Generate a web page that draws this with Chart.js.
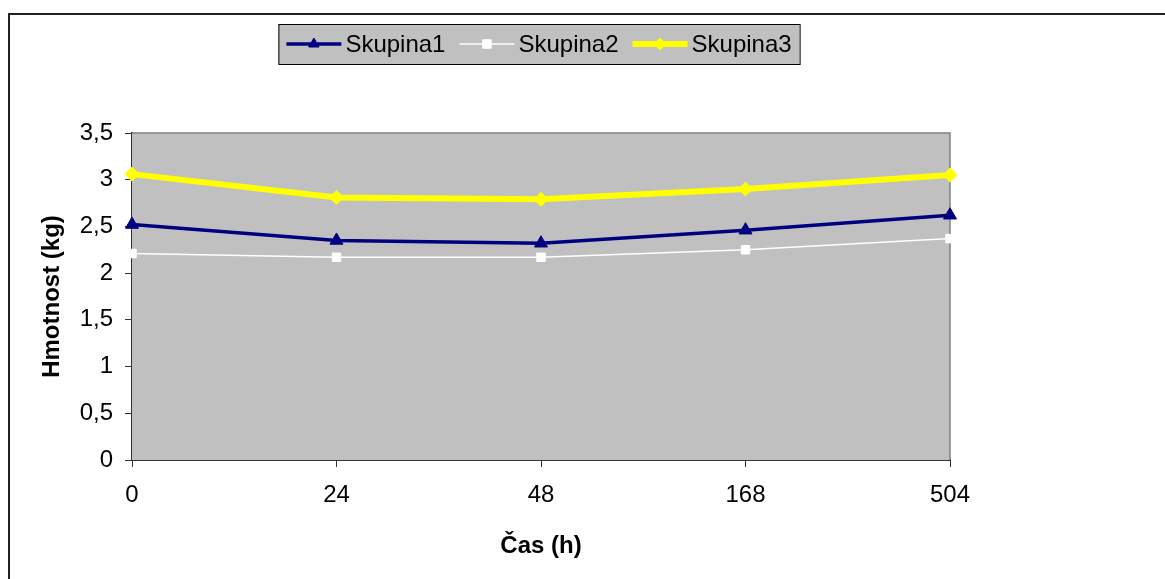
<!DOCTYPE html>
<html>
<head>
<meta charset="utf-8">
<script src="https://cdn.jsdelivr.net/npm/chart.js@4"></script>
<style>
  html, body { margin: 0; padding: 0; background: #fff; }
  #wrap { width: 1165px; height: 579px; position: relative; }
</style>
</head>
<body>
<div id="wrap"><canvas id="weightChart"></canvas></div>
<script>
// data
const hours = ["0", "24", "48", "168", "504"];
const skupina1 = [2.52, 2.35, 2.32, 2.46, 2.62];
const skupina2 = [2.21, 2.17, 2.17, 2.25, 2.37];
const skupina3 = [3.06, 2.81, 2.79, 2.90, 3.05];
const seriesNames = ["Skupina1", "Skupina2", "Skupina3"];

const FONT = "Arial, 'Liberation Sans', sans-serif";

// gray plot area + outer frame
const plotBg = {
  id: "plotBg",
  beforeDatasetsDraw(chart) {
    const { ctx, chartArea: a } = chart;
    ctx.save();
    ctx.fillStyle = "#C0C0C0";
    ctx.fillRect(a.left, a.top, a.right - a.left, a.bottom - a.top);
    ctx.strokeStyle = "#808080";
    ctx.lineWidth = 1.5;
    ctx.beginPath();
    ctx.moveTo(a.left, a.top);
    ctx.lineTo(a.right, a.top);
    ctx.lineTo(a.right, a.bottom);
    ctx.stroke();
    ctx.restore();
  },
  afterDraw(chart) {
    const ctx = chart.ctx;
    ctx.save();
    ctx.strokeStyle = "#222";
    ctx.lineWidth = 2;
    ctx.beginPath();
    ctx.moveTo(9, chart.height);
    ctx.lineTo(9, 14);
    ctx.lineTo(chart.width, 14);
    ctx.stroke();
    ctx.restore();
  }
};

// legend drawn like the original: line with marker in the middle
const lineLegend = {
  id: "lineLegend",
  afterDraw(chart) {
    const ctx = chart.ctx;
    const sets = chart.data.datasets;
    ctx.save();
    ctx.font = "24px " + FONT;
    const lineLen = 55, gapText = 4, gapItem = 14, pad = 8;
    let total = 0;
    sets.forEach((ds, i) => {
      total += lineLen + gapText + ctx.measureText(ds.label).width;
      if (i < sets.length - 1) total += gapItem;
    });
    const cx = 539, cy = 44;
    const boxL = cx - total / 2 - pad, boxW = total + pad * 2;
    ctx.fillStyle = "#C0C0C0";
    ctx.fillRect(boxL, 24, boxW, 40);
    ctx.strokeStyle = "#000";
    ctx.lineWidth = 1;
    ctx.strokeRect(boxL + 0.5, 24.5, boxW, 40);

    let x = boxL + pad;
    sets.forEach((ds) => {
      ctx.strokeStyle = ds.borderColor;
      ctx.lineWidth = ds.borderWidth;
      ctx.beginPath();
      ctx.moveTo(x, cy);
      ctx.lineTo(x + lineLen, cy);
      ctx.stroke();
      ctx.fillStyle = ds.pointBackgroundColor;
      ctx.strokeStyle = ds.pointBorderColor;
      ctx.lineWidth = 1;
      Chart.helpers.drawPoint(ctx, {
        pointStyle: ds.pointStyle,
        radius: 6,
        rotation: 0,
        borderWidth: 1
      }, x + lineLen / 2, cy);
      ctx.fillStyle = "#000";
      ctx.textBaseline = "middle";
      ctx.textAlign = "left";
      ctx.fillText(ds.label, x + lineLen + gapText, cy + 1);
      x += lineLen + gapText + ctx.measureText(ds.label).width + gapItem;
    });
    ctx.restore();
  }
};

const ctx = document.getElementById("weightChart").getContext("2d");

new Chart(ctx, {
  type: "line",
  data: {
    labels: hours,
    datasets: [
      {
        label: seriesNames[0],
        data: skupina1,
        borderColor: "#000080",
        borderWidth: 3.5,
        pointStyle: "triangle",
        pointRadius: 7.5,
        pointBackgroundColor: "#000080",
        pointBorderColor: "#000080",
        pointBorderWidth: 1,
        tension: 0,
        clip: false
      },
      {
        label: seriesNames[1],
        data: skupina2,
        borderColor: "#FFFFFF",
        borderWidth: 1.5,
        pointStyle: "rect",
        pointRadius: 6,
        pointBackgroundColor: "#FFFFFF",
        pointBorderColor: "#FFFFFF",
        pointBorderWidth: 1,
        tension: 0,
        clip: false
      },
      {
        label: seriesNames[2],
        data: skupina3,
        borderColor: "#FFFF00",
        borderWidth: 6,
        pointStyle: "rectRot",
        pointRadius: 7,
        pointBackgroundColor: "#FFFF00",
        pointBorderColor: "#FFFF00",
        pointBorderWidth: 1,
        tension: 0,
        clip: false
      }
    ]
  },
  options: {
    responsive: true,
    maintainAspectRatio: false,
    animation: false,
    layout: { padding: { left: 0, top: 133, right: 215, bottom: 0 } },
    plugins: {
      legend: { display: false },
      tooltip: { enabled: false }
    },
    scales: {
      x: {
        offset: false,
        grid: {
          drawOnChartArea: false,
          drawTicks: true,
          tickLength: 7,
          color: "#333"
        },
        border: { color: "#333", width: 2 },
        ticks: {
          color: "#000",
          font: { family: FONT, size: 24 },
          padding: 14,
          maxRotation: 0
        },
        title: {
          display: true,
          text: "Čas (h)",
          color: "#000",
          font: { family: FONT, size: 24, weight: "bold" },
          padding: { top: 0, bottom: 18 }
        },
        afterFit(scale) { scale.height = 119; }
      },
      y: {
        min: 0,
        max: 3.5,
        grid: {
          drawOnChartArea: false,
          drawTicks: true,
          tickLength: 7,
          color: "#333"
        },
        border: { color: "#333", width: 2 },
        ticks: {
          stepSize: 0.5,
          color: "#000",
          font: { family: FONT, size: 24 },
          padding: 12,
          callback: (v) => String(v).replace(".", ",")
        },
        title: {
          display: true,
          text: "Hmotnost (kg)",
          color: "#000",
          font: { family: FONT, size: 24, weight: "bold" },
          padding: { top: 38, bottom: 0 }
        },
        afterFit(scale) { scale.width = 132; }
      }
    }
  },
  plugins: [plotBg, lineLegend]
});
</script>
</body>
</html>
